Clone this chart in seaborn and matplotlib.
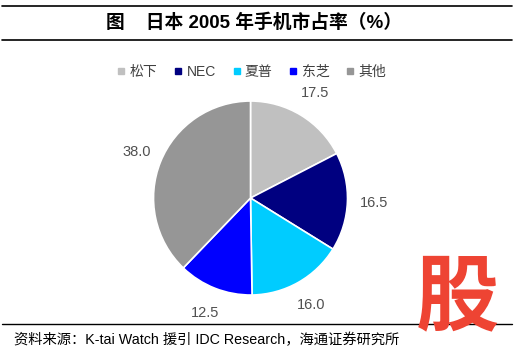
import matplotlib.pyplot as plt
import seaborn as sns
from matplotlib.lines import Line2D

# 日本2005年手机市占率
brands = ['松下', 'NEC', '夏普', '东芝', '其他']
shares = [17.5, 16.5, 16.0, 12.5, 38.0]
colors = ['#C0C0C0', '#000080', '#00CCFF', '#0000FF', '#969696']

sns.set_theme(style='white')
plt.rcParams['font.family'] = ['Liberation Sans', 'Noto Sans CJK SC', 'DejaVu Sans']

fig = plt.figure(figsize=(5.17, 3.55), dpi=100)
ax = fig.add_axes([0.2219, 0.0597, 0.5253, 0.765])

total = sum(shares)
wedges, texts, autotexts = ax.pie(
    shares, colors=colors, startangle=90, counterclock=False,
    autopct=lambda p: f'{p * total / 100:.1f}', pctdistance=1.27,
    wedgeprops=dict(edgecolor='white', linewidth=1.2),
    textprops=dict(fontsize=10.5, color='#505050'))
ax.set_xlim(-1.4, 1.4)
ax.set_ylim(-1.4, 1.4)
ax.set_aspect('auto')
ax.axis('off')

# 图例
handles = [Line2D([], [], marker='s', linestyle='none', markersize=5,
                  markerfacecolor=c, markeredgecolor=c) for c in colors]
fig.legend(handles, brands, loc='center', bbox_to_anchor=(0.487, 0.797),
           ncol=5, frameon=False, fontsize=10, handlelength=0.6,
           handletextpad=0.3, columnspacing=1.2, labelcolor='#404040')

# 标题与分隔线
fig.add_artist(Line2D([0.004, 0.99], [0.983, 0.983], color='black', lw=1.2))
fig.add_artist(Line2D([0.004, 0.99], [0.887, 0.887], color='black', lw=1.2))
fig.add_artist(Line2D([0.004, 0.99], [0.087, 0.087], color='black', lw=1.0))
fig.text(0.492, 0.937, '图    日本 2005 年手机市占率（%）', ha='center', va='center',
         fontsize=13.5, fontweight='bold', color='black')
fig.text(0.027, 0.042, '资料来源：K-tai Watch 援引 IDC Research，海通证券研究所',
         ha='left', va='center', fontsize=10.3, color='black')

# 水印
fig.text(0.884, 0.158, '股', ha='center', va='center', fontsize=60,
         fontweight='black', color='#EE4433', family=['Noto Sans CJK SC'],
         zorder=10)

fig.savefig('out.png', dpi=100, facecolor='white')
